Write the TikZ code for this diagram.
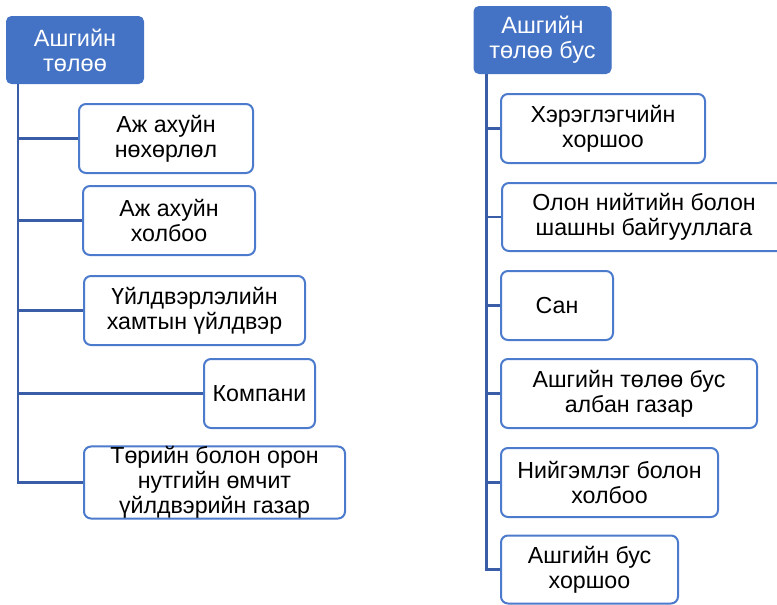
\documentclass[tikz,border=0pt]{standalone}
\usepackage{fontspec}
\setmainfont{Liberation Sans}
\definecolor{hdrblue}{RGB}{68,114,196}
\definecolor{boxblue}{RGB}{76,122,204}
\definecolor{linkblue}{RGB}{58,93,168}
\tikzset{
  hdr/.style={fill=hdrblue, draw=hdrblue, line width=1pt, rounded corners=5pt, text=white, align=center, inner sep=0pt,
    font=\fontsize{23.5}{25}\selectfont},
  itembox/.style={fill=white, draw=boxblue, line width=2pt, rounded corners=7pt, align=center, inner sep=0pt,
    font=\fontsize{23.2}{25}\selectfont},
  link/.style={draw=linkblue, line width=2.4pt},
}
\begin{document}
\begin{tikzpicture}[x=1pt, y=-1pt]
\useasboundingbox (0,0) rectangle (777,605);
\clip (0,0) rectangle (777,605);
% Left column
\node[hdr, minimum width=137pt, minimum height=67pt] (h1) at (75,50) {Ашгийн\\төлөө};
\coordinate (t1) at ([xshift=12pt]h1.south west);
\node[itembox, minimum width=174pt, minimum height=69pt] (a1) at (166,138.5) {Аж ахуйн\\нөхөрлөл};
\node[itembox, minimum width=172pt, minimum height=69pt] (a2) at (169,220.5) {Аж ахуйн\\холбоо};
\node[itembox, minimum width=221pt, minimum height=69pt] (a3) at (194.5,310.5) {Үйлдвэрлэлийн\\хамтын үйлдвэр};
\node[itembox, minimum width=111pt, minimum height=69pt] (a4) at (259.5,393.5) {Компани};
\node[itembox, minimum width=261pt, minimum height=69pt] (a5) at (214.5,482.5) {Төрийн болон орон\\нутгийн өмчит\\үйлдвэрийн газар};
\draw[link] (t1) |- (a5.west);
\foreach \n in {a1,a2,a3,a4} \draw[link] (t1 |- \n.west) -- (\n.west);
% Right column
\node[hdr, minimum width=137pt, minimum height=67pt] (h2) at (542.5,40) {Ашгийн\\төлөө бус};
\coordinate (t2) at ([xshift=13pt]h2.south west);
\node[itembox, minimum width=204pt, minimum height=69pt] (b1) at (603,128.5) {Хэрэглэгчийн\\хоршоо};
\node[itembox, minimum width=300pt, minimum height=68pt, anchor=west] (b2) at (501,217) {\hspace*{-16pt}Олон нийтийн болон\\\hspace*{-16pt}шашны байгууллага};
\node[itembox, minimum width=112pt, minimum height=69pt] (b3) at (557,305.5) {Сан};
\node[itembox, minimum width=256pt, minimum height=69pt] (b4) at (629,393.5) {Ашгийн төлөө бус\\албан газар};
\node[itembox, minimum width=217pt, minimum height=69pt] (b5) at (609.5,482.5) {Нийгэмлэг болон\\холбоо};
\node[itembox, minimum width=177pt, minimum height=68pt] (b6) at (589.5,569.5) {Ашгийн бус\\хоршоо};
\draw[link] (t2) |- (b6.west);
\foreach \n in {b1,b2,b3,b4,b5} \draw[link] (t2 |- \n.west) -- (\n.west);
\end{tikzpicture}
\end{document}
